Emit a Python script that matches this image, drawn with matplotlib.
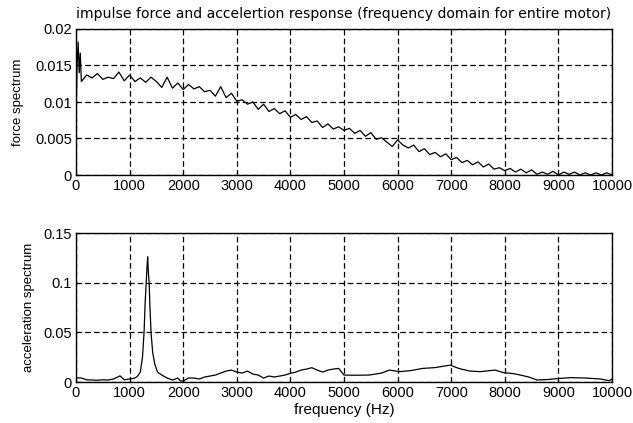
import numpy as np
import matplotlib
matplotlib.use("Agg")
import matplotlib.pyplot as plt

plt.rcParams['font.family'] = ['Liberation Sans', 'DejaVu Sans']

# Force spectrum: low-frequency spike samples, then 100 Hz spacing
force_freq_start = [0, 20, 40, 60, 80]
force_start = [0.0075, 0.0150, 0.0182, 0.0140, 0.0167]
force_freq = list(range(100, 10001, 100))
force_vals = [
    0.0128, 0.0137, 0.0133, 0.0139, 0.0131, 0.0134, 0.0132, 0.0141, 0.0129, 0.0137,
    0.0128, 0.0133, 0.0127, 0.0134, 0.0128, 0.0120, 0.0134, 0.0119, 0.0126, 0.0117,
    0.0124, 0.0118, 0.0121, 0.0114, 0.0116, 0.0108, 0.0121, 0.0106, 0.0112, 0.0101,
    0.0103, 0.0097, 0.0100, 0.0090, 0.0097, 0.0087, 0.0091, 0.0084, 0.0088, 0.0079,
    0.0083, 0.0076, 0.0080, 0.0072, 0.0074, 0.0065, 0.0070, 0.0063, 0.0066, 0.0061,
    0.0064, 0.0057, 0.0061, 0.0053, 0.0058, 0.0049, 0.0051, 0.0045, 0.0039, 0.0048,
    0.0041, 0.0037, 0.0041, 0.0032, 0.0036, 0.0028, 0.0031, 0.0025, 0.0029, 0.0021,
    0.0024, 0.0017, 0.0020, 0.0014, 0.0018, 0.0011, 0.0015, 0.0008, 0.0010, 0.0006,
    0.0009, 0.0004, 0.0008, 0.0003, 0.0007, 0.0001, 0.0004, 0.0001, 0.0005, 0.0000,
    0.0004, 0.0001, 0.0004, 0.0000, 0.0003, 0.0000, 0.0003, 0.0000, 0.0003, 0.0000,
]

# Acceleration spectrum
accel_freq = [
    0, 100, 200, 300, 400, 500, 600, 700, 820, 900, 1000, 1100, 1150, 1200, 1240,
    1270, 1290, 1310, 1325, 1337, 1350, 1365, 1380, 1400, 1430, 1470, 1520, 1600,
    1700, 1800, 1900, 1950, 2000, 2100, 2200, 2300, 2400, 2500, 2600, 2700, 2800,
    2900, 3000, 3100, 3200, 3300, 3400, 3500, 3600, 3700, 3800, 3900, 4000, 4100,
    4200, 4300, 4400, 4500, 4600, 4700, 4800, 4900, 5000, 5200, 5470, 5700, 5850,
    6030, 6250, 6470, 6700, 6980, 7150, 7350, 7540, 7820, 7980, 8150, 8290, 8450,
    8600, 8800, 8980, 9230, 9500, 9790, 9950, 10000,
]
accel_vals = [
    0.0043, 0.0040, 0.0022, 0.0020, 0.0018, 0.0022, 0.0020, 0.0030, 0.0062, 0.0022,
    0.0030, 0.0040, 0.0060, 0.0100, 0.0250, 0.0500, 0.0800, 0.1000, 0.1160, 0.1260,
    0.1100, 0.1000, 0.0750, 0.0500, 0.0300, 0.0180, 0.0100, 0.0070, 0.0040, 0.0020,
    0.0040, 0.0010, 0.0010, 0.0040, 0.0040, 0.0030, 0.0050, 0.0060, 0.0070, 0.0090,
    0.0110, 0.0120, 0.0100, 0.0090, 0.0110, 0.0080, 0.0070, 0.0040, 0.0060, 0.0050,
    0.0060, 0.0070, 0.0087, 0.0100, 0.0120, 0.0130, 0.0144, 0.0120, 0.0100, 0.0120,
    0.0130, 0.0137, 0.0070, 0.0068, 0.0070, 0.0090, 0.0120, 0.0104, 0.0115, 0.0137,
    0.0145, 0.0170, 0.0135, 0.0110, 0.0104, 0.0120, 0.0094, 0.0085, 0.0070, 0.0050,
    0.0020, 0.0025, 0.0034, 0.0044, 0.0040, 0.0030, 0.0013, 0.0030,
]

x_ticks = list(range(0, 10001, 1000))
force_ticks = [0, 0.005, 0.01, 0.015, 0.02]
force_labels = ['0', '0.005', '0.01', '0.015', '0.02']
accel_ticks = [0, 0.05, 0.1, 0.15]
accel_labels = ['0', '0.05', '0.1', '0.15']

W, H = 633, 423
fig = plt.figure(figsize=(W / 100, H / 100), dpi=100)

def px_axes(left, top, right, bottom):
    return fig.add_axes([left / W, 1 - bottom / H, (right - left) / W, (bottom - top) / H])

ax1 = px_axes(76, 29, 612, 175)
ax2 = px_axes(76, 233, 612, 382)

ax1.plot(force_freq_start + force_freq, force_start + force_vals, color='black', lw=0.9)
ax2.plot(accel_freq, accel_vals, color='black', lw=0.9)

for ax, yt, yl, ylim, ylabel, lpad in [
    (ax1, force_ticks, force_labels, (0, 0.02), 'force spectrum', 8),
    (ax2, accel_ticks, accel_labels, (0, 0.15), 'acceleration spectrum', 6),
]:
    ax.set_xlim(0, 10000)
    ax.set_ylim(*ylim)
    ax.set_xticks(x_ticks)
    ax.set_xticklabels([str(t) for t in x_ticks])
    ax.set_yticks(yt)
    ax.set_yticklabels(yl)
    ax.tick_params(direction='in', length=3, labelsize=10.5, pad=3, color='black')
    ax.grid(True, color='black', linestyle=(0, (4.5, 2.5)), linewidth=0.9)
    for s in ax.spines.values():
        s.set_linewidth(1.0)
        s.set_color('black')
    ax.set_ylabel(ylabel, fontsize=9.5, labelpad=lpad)

ax1.set_title('impulse force and accelertion response (frequency domain for entire motor)',
              fontsize=10.1, family=['DejaVu Sans'], pad=8)
ax2.set_xlabel('frequency (Hz)', fontsize=11, labelpad=2)

fig.savefig('out.png', dpi=100)
